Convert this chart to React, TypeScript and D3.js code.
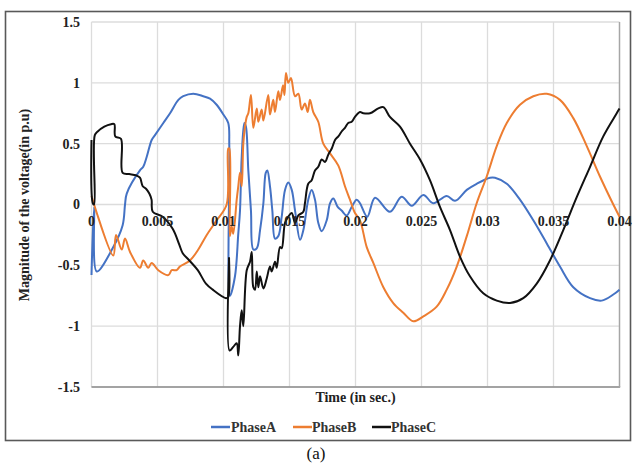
import React from "react";
import * as d3 from "d3";

// Three-phase voltage waveforms (time in s, magnitude in p.u.)
const phaseA: [number, number][] = [
  [0, -0.58], [0.0002, -0.02], [0.0004, -0.55], [0.0016, -0.36], [0.00236, -0.17],
  [0.00254, 0.0], [0.00267, 0.09], [0.00367, 0.28], [0.00392, 0.31], [0.00418, 0.39],
  [0.00456, 0.53], [0.00481, 0.57], [0.00544, 0.67], [0.00595, 0.75], [0.00658, 0.86],
  [0.00695, 0.89], [0.00771, 0.91], [0.00847, 0.89], [0.00898, 0.87], [0.00948, 0.82],
  [0.00999, 0.74], [0.01036, 0.67], [0.01044, 0.48], [0.01049, -0.75], [0.01087, -0.59],
  [0.01112, -0.24], [0.01125, -0.05], [0.01138, 0.39], [0.01158, 0.67], [0.0117, 0.64],
  [0.01188, 0.28], [0.01208, -0.05], [0.01226, -0.37], [0.01252, -0.36], [0.01277, -0.21],
  [0.01302, 0.01], [0.0132, 0.26], [0.01332, 0.28], [0.01352, 0.15], [0.0137, -0.05],
  [0.0139, -0.28], [0.01415, -0.26], [0.01441, -0.1], [0.01466, 0.12], [0.01491, 0.18],
  [0.01517, 0.12], [0.01542, -0.05], [0.0158, -0.29], [0.01605, -0.21], [0.01642, 0.04],
  [0.01668, 0.12], [0.01693, 0.04], [0.01718, -0.15], [0.01744, -0.22], [0.01782, -0.13],
  [0.01807, 0.01], [0.01832, 0.05], [0.01865, -0.02], [0.01895, -0.05], [0.01933, -0.09],
  [0.01971, -0.02], [0.02009, 0.04], [0.02034, 0.01], [0.02089, -0.1], [0.02148, 0.056],
  [0.02261, -0.06], [0.0235, 0.064], [0.02426, -0.01], [0.02514, 0.078], [0.02589, 0.01],
  [0.02691, 0.07], [0.02754, 0.03], [0.02843, 0.12], [0.02918, 0.17], [0.03019, 0.22],
  [0.03057, 0.22], [0.03146, 0.17], [0.03246, 0.04], [0.03347, -0.13], [0.03449, -0.32],
  [0.03549, -0.51], [0.0365, -0.68], [0.03777, -0.77], [0.03865, -0.79], [0.03953, -0.74],
  [0.04, -0.7],
];

const phaseB: [number, number][] = [
  [0, 0.07], [0.0002, 0.0], [0.00034, -0.05], [0.00165, -0.42], [0.00186, -0.25],
  [0.00229, -0.37], [0.00254, -0.28], [0.00292, -0.39], [0.00367, -0.52], [0.00392, -0.46],
  [0.0043, -0.52], [0.00456, -0.48], [0.00506, -0.54], [0.00582, -0.58], [0.00608, -0.54],
  [0.00645, -0.54], [0.0067, -0.51], [0.00746, -0.46], [0.00809, -0.37], [0.00873, -0.25],
  [0.00948, -0.13], [0.01024, 0.0], [0.01036, 0.46], [0.01044, 0.46], [0.01048, -0.26],
  [0.01062, -0.18], [0.01074, -0.24], [0.011, 0.04], [0.01112, 0.15], [0.01125, 0.26],
  [0.01138, 0.15], [0.0115, 0.5], [0.01163, 0.64], [0.01176, 0.72], [0.01188, 0.75],
  [0.01208, 0.9], [0.01226, 0.63], [0.01252, 0.79], [0.01264, 0.68], [0.01289, 0.78],
  [0.01302, 0.69], [0.01339, 0.9], [0.01352, 0.74], [0.01377, 0.86], [0.0139, 0.76],
  [0.01415, 0.93], [0.01428, 0.86], [0.01451, 0.98], [0.01462, 0.9], [0.01473, 1.08],
  [0.01491, 1.0], [0.01511, 1.04], [0.01542, 0.89], [0.01567, 0.91], [0.01592, 0.78],
  [0.01617, 0.83], [0.01638, 0.76], [0.01655, 0.86], [0.0168, 0.76], [0.01718, 0.68],
  [0.01756, 0.5], [0.01807, 0.42], [0.0187, 0.32], [0.0192, 0.15], [0.01958, 0.04],
  [0.01996, -0.07], [0.02034, -0.13], [0.02085, -0.35], [0.02135, -0.48], [0.02211, -0.68],
  [0.02286, -0.81], [0.02362, -0.89], [0.02438, -0.96], [0.02514, -0.92], [0.02615, -0.84],
  [0.02691, -0.7], [0.02767, -0.51], [0.02843, -0.26], [0.02918, 0.01], [0.02994, 0.23],
  [0.0307, 0.48], [0.03146, 0.67], [0.03246, 0.82], [0.03347, 0.89], [0.03449, 0.91],
  [0.03549, 0.86], [0.0365, 0.71], [0.03752, 0.48], [0.03852, 0.23], [0.03953, 0.0],
  [0.04, -0.1],
];

const phaseC: [number, number][] = [
  [0, 0.53], [0.0001, 0.01], [0.0002, 0.0], [0.00025, 0.57], [0.00047, 0.6],
  [0.00097, 0.64], [0.00148, 0.66], [0.00173, 0.66], [0.0018, 0.56], [0.00223, 0.54],
  [0.00236, 0.26], [0.00286, 0.25], [0.00337, 0.24], [0.00367, 0.22], [0.00388, 0.15],
  [0.00413, 0.13], [0.00438, 0.09], [0.00455, 0.04], [0.00464, -0.06], [0.00539, -0.1],
  [0.00615, -0.2], [0.00665, -0.33], [0.00691, -0.4], [0.00741, -0.46], [0.00805, -0.54],
  [0.00867, -0.65], [0.00918, -0.7], [0.01019, -0.77], [0.01036, -0.76], [0.01042, -0.44],
  [0.01046, -1.2], [0.01074, -1.17], [0.011, -1.14], [0.01112, -1.24], [0.01125, -1.0],
  [0.01138, -0.87], [0.0115, -1.0], [0.01176, -0.54], [0.01201, -0.47], [0.01214, -0.39],
  [0.01226, -0.68], [0.01239, -0.7], [0.01252, -0.55], [0.01264, -0.68], [0.01277, -0.59],
  [0.01302, -0.69], [0.01327, -0.61], [0.01352, -0.51], [0.01365, -0.55], [0.0139, -0.47],
  [0.01403, -0.52], [0.01428, -0.35], [0.01441, -0.36], [0.01466, -0.15], [0.01491, -0.1],
  [0.01517, -0.07], [0.01542, -0.15], [0.01567, -0.09], [0.01605, -0.06], [0.01617, 0.01],
  [0.01642, 0.17], [0.01668, 0.2], [0.01693, 0.28], [0.01718, 0.31], [0.01744, 0.37],
  [0.01769, 0.35], [0.01794, 0.41], [0.0182, 0.46], [0.01845, 0.53], [0.0187, 0.56],
  [0.01895, 0.6], [0.0192, 0.63], [0.01945, 0.67], [0.01971, 0.68], [0.01996, 0.72],
  [0.02034, 0.76], [0.02059, 0.75], [0.0211, 0.75], [0.02173, 0.79], [0.02211, 0.8],
  [0.02261, 0.72], [0.02337, 0.64], [0.02413, 0.5], [0.02489, 0.37], [0.02564, 0.2],
  [0.0264, -0.02], [0.02716, -0.21], [0.02792, -0.43], [0.02867, -0.59], [0.02968, -0.73],
  [0.0307, -0.79], [0.03171, -0.81], [0.03271, -0.77], [0.03373, -0.65], [0.03473, -0.46],
  [0.03574, -0.21], [0.03676, 0.06], [0.03777, 0.31], [0.03877, 0.56], [0.03979, 0.75],
  [0.04, 0.79],
];

const xTicks = [0, 0.005, 0.01, 0.015, 0.02, 0.025, 0.03, 0.035, 0.04];
const xTickLabels = ["0", "0.005", "0.01", "0.015", "0.02", "0.025", "0.03", "0.035", "0.04"];
const yTicks = [-1.5, -1, -0.5, 0, 0.5, 1, 1.5];
const yTickLabels = ["-1.5", "-1", "-0.5", "0", "0.5", "1", "1.5"];

const seriesNames = ["PhaseA", "PhaseB", "PhaseC"];
const seriesColors = ["#4472C4", "#ED7D31", "#111111"];

const W = 636;
const H = 465;
const plot = { left: 91.5, right: 619.5, top: 22, bottom: 387 };
const FONT = "'Liberation Serif', 'Times New Roman', serif";

export default function App() {
  const x = d3.scaleLinear().domain([0, 0.04]).range([plot.left, plot.right]);
  const y = d3.scaleLinear().domain([-1.5, 1.5]).range([plot.bottom, plot.top]);
  const line = d3
    .line<[number, number]>()
    .x((d) => x(d[0]))
    .y((d) => y(d[1]))
    .curve(d3.curveCatmullRom.alpha(0.5));
  const series = [phaseA, phaseB, phaseC];

  const legendItems = [
    { x0: 211, tx: 231 },
    { x0: 293, tx: 312 },
    { x0: 372, tx: 391 },
  ];

  return (
    <svg
      width={W}
      height={H}
      viewBox={`0 0 ${W} ${H}`}
      style={{ position: "absolute", left: 0, top: 0, background: "#fff" }}
    >
      <rect x={0} y={0} width={W} height={H} fill="#fff" />
      {/* outer frame */}
      <rect x={5.5} y={11.5} width={625} height={429} fill="none" stroke="#595959" strokeWidth={1.6} />

      {/* gridlines */}
      {xTicks.map((t) => (
        <line key={"gx" + t} x1={x(t)} x2={x(t)} y1={plot.top} y2={plot.bottom} stroke="#dcdcdc" strokeWidth={1.3} />
      ))}
      {yTicks.map((v) => (
        <line key={"gy" + v} x1={plot.left} x2={plot.right} y1={y(v)} y2={y(v)} stroke="#dcdcdc" strokeWidth={1.3} />
      ))}
      {/* plot border bottom/right */}
      <line x1={plot.left} x2={plot.right + 0.7} y1={plot.bottom} y2={plot.bottom} stroke="#8c8c8c" strokeWidth={1.6} />
      <line x1={plot.right} x2={plot.right} y1={plot.top} y2={plot.bottom} stroke="#a6a6a6" strokeWidth={1.4} />

      {/* y tick labels */}
      {yTicks.map((v, i) => (
        <text
          key={"ty" + v}
          x={80}
          y={y(v)}
          dy="0.35em"
          textAnchor="end"
          fontFamily={FONT}
          fontWeight="bold"
          fontSize={14}
          fill="#222"
        >
          {yTickLabels[i]}
        </text>
      ))}

      {/* series */}
      {series.map((s, i) => (
        <path
          key={seriesNames[i]}
          d={line(s) || ""}
          fill="none"
          stroke={seriesColors[i]}
          strokeWidth={2}
          strokeLinejoin="round"
        />
      ))}

      {/* x tick labels sit on the zero axis */}
      {xTicks.map((t, i) => (
        <text
          key={"tx" + t}
          x={x(t)}
          y={y(0) + 21}
          textAnchor="middle"
          fontFamily={FONT}
          fontWeight="bold"
          fontSize={14}
          fill="#222"
        >
          {xTickLabels[i]}
        </text>
      ))}

      {/* axis titles */}
      <text
        x={(plot.left + plot.right) / 2}
        y={402}
        textAnchor="middle"
        fontFamily={FONT}
        fontWeight="bold"
        fontSize={14}
        fill="#222"
      >
        Time (in sec.)
      </text>
      <text
        transform={`translate(29, ${205}) rotate(-90)`}
        textAnchor="middle"
        fontFamily={FONT}
        fontWeight="bold"
        fontSize={14}
        fill="#222"
      >
        Magnitude of the voltage(in p.u)
      </text>

      {/* legend */}
      {legendItems.map((it, i) => (
        <g key={"lg" + i}>
          <line x1={it.x0} x2={it.x0 + 19} y1={427} y2={427} stroke={seriesColors[i]} strokeWidth={2.5} />
          <text x={it.tx} y={431.5} fontFamily={FONT} fontWeight="bold" fontSize={14} fill="#333">
            {seriesNames[i]}
          </text>
        </g>
      ))}

      {/* caption */}
      <text x={316} y={459} textAnchor="middle" fontFamily={FONT} fontSize={17} fill="#111">
        (a)
      </text>
    </svg>
  );
}
